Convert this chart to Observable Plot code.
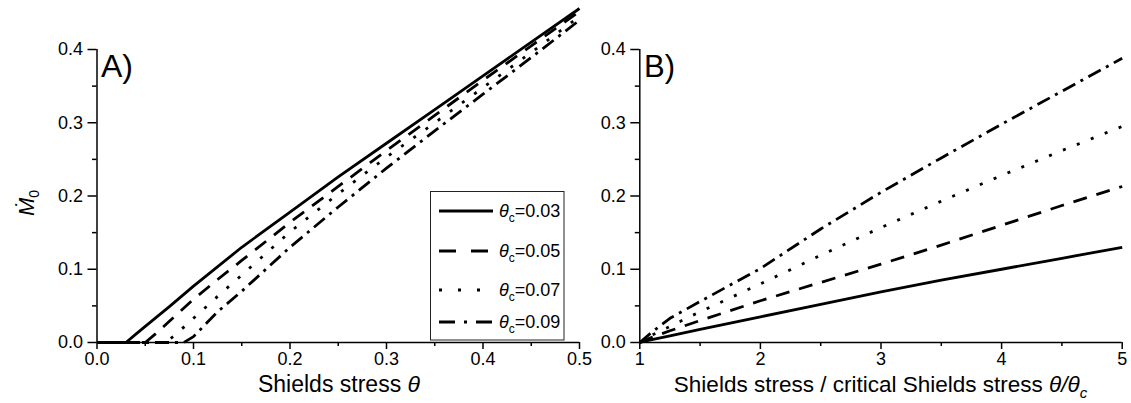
<!DOCTYPE html>
<html>
<head>
<meta charset="utf-8">
<script src="https://cdn.jsdelivr.net/npm/d3@7"></script>
<script src="https://cdn.jsdelivr.net/npm/@observablehq/plot@0.6"></script>
<style>
  body { margin: 0; background: #fff; }
  #chart { position: relative; width: 1131px; height: 403px; overflow: hidden;
           font-family: "Liberation Sans", Arial, sans-serif; }
  #chart svg { position: absolute; top: 0; overflow: visible; }
</style>
</head>
<body>
<div id="chart"></div>
<script>
// Critical Shields stress of each curve
const criticalShields = [0.03, 0.05, 0.07, 0.09];
const legendValues = ["0.03", "0.05", "0.07", "0.09"];

// Panel A: dimensionless rate against Shields stress
const shieldsA1 = [0, 0.03, 0.04, 0.05, 0.075, 0.1, 0.15, 0.2, 0.25, 0.3, 0.35, 0.4, 0.45, 0.5];
const rateA1    = [0, 0, 0.011, 0.022, 0.049, 0.077, 0.13, 0.178, 0.226, 0.272, 0.318, 0.364, 0.41, 0.456];
const shieldsA2 = [0, 0.05, 0.06, 0.075, 0.1, 0.125, 0.15, 0.2, 0.25, 0.3, 0.35, 0.4, 0.45, 0.5];
const rateA2    = [0, 0, 0.011, 0.029, 0.059, 0.086, 0.112, 0.164, 0.213, 0.262, 0.31, 0.358, 0.405, 0.452];
const shieldsA3 = [0, 0.07, 0.08, 0.1, 0.125, 0.15, 0.2, 0.25, 0.3, 0.35, 0.4, 0.45, 0.5];
const rateA3    = [0, 0, 0.009, 0.033, 0.063, 0.092, 0.151, 0.203, 0.253, 0.3, 0.348, 0.396, 0.445];
const shieldsA4 = [0, 0.09, 0.1, 0.125, 0.15, 0.2, 0.25, 0.3, 0.35, 0.4, 0.45, 0.5];
const rateA4    = [0, 0, 0.008, 0.042, 0.07, 0.13, 0.185, 0.238, 0.289, 0.339, 0.389, 0.44];

// Panel B: the same rate against the ratio theta / theta_c
const ratioB = [1, 1.1, 1.25, 1.5, 2, 2.5, 3, 3.5, 4, 4.5, 5];
const rateB1 = [0, 0.004, 0.009, 0.018, 0.035, 0.052, 0.069, 0.085, 0.100, 0.115, 0.130];
const rateB2 = [0, 0.007, 0.016, 0.030, 0.057, 0.082, 0.107, 0.133, 0.160, 0.187, 0.213];
const rateB3 = [0, 0.010, 0.022, 0.042, 0.080, 0.119, 0.157, 0.193, 0.228, 0.262, 0.295];
const rateB4 = [0, 0.014, 0.033, 0.056, 0.101, 0.155, 0.205, 0.252, 0.298, 0.343, 0.388];

// Axis ticks
const ticksAx = [0, 0.1, 0.2, 0.3, 0.4, 0.5];
const minorAx = [0.05, 0.15, 0.25, 0.35, 0.45];
const ticksBx = [1, 2, 3, 4, 5];
const minorBx = [1.5, 2.5, 3.5, 4.5];
const ticksY = [0, 0.1, 0.2, 0.3, 0.4];
const minorY = [0.05, 0.15, 0.25, 0.35];

// Line style of each curve (solid, dash, dot, dash-dot)
const dashes = [null, "14,10", "3,12", "14,6,3,6"];
const legendDashes = [null, "17,15", "3,16", "16,9,3,9"];
const LW = 2.8;
const FONT = '"Liberation Sans", Arial, sans-serif';

const seriesA = [[shieldsA1, rateA1], [shieldsA2, rateA2], [shieldsA3, rateA3], [shieldsA4, rateA4]]
  .map(([xs, ys]) => xs.map((x, j) => ({x, y: ys[j]})));
const seriesB = [rateB1, rateB2, rateB3, rateB4]
  .map(ys => ratioB.map((x, j) => ({x, y: ys[j]})));

function axes(xMajor, xMinor, xFmt) {
  return [
    Plot.ruleY([0], {stroke: "black", strokeWidth: 1.5}),
    Plot.axisX(xMajor, {tickSize: 7, tickPadding: 3, fontSize: 18, tickFormat: xFmt,
                        strokeWidth: 1.5, label: null}),
    Plot.axisX(xMinor, {tickSize: 4, tickFormat: null, text: null, strokeWidth: 1.5, label: null}),
    Plot.axisY(ticksY, {tickSize: 9, tickPadding: 5, fontSize: 18, tickFormat: d3.format(".1f"),
                        strokeWidth: 1.5, label: null}),
    Plot.axisY(minorY, {tickSize: 4.5, tickFormat: null, text: null, strokeWidth: 1.5, label: null})
  ];
}

function curves(series) {
  return series.map((data, i) => Plot.line(data, {
    x: "x", y: "y", stroke: "black", strokeWidth: LW,
    strokeDasharray: dashes[i] ?? undefined, strokeLinecap: "butt", strokeLinejoin: "round"
  }));
}

const H = 403, MT = 49, MB = 61;

// ---- Panel A ----
const plotA = Plot.plot({
  width: 590, height: H, marginLeft: 96.5, marginRight: 11, marginTop: MT, marginBottom: MB,
  x: {domain: [0, 0.5]},
  y: {domain: [0, 0.4]},
  style: {color: "black", fontFamily: FONT, background: "transparent", overflow: "visible"},
  marks: [
    ...axes(ticksAx, minorAx, d3.format(".1f")),
    Plot.ruleX([0], {y1: 0, y2: 0.4, stroke: "black", strokeWidth: 1.5}),
    ...curves(seriesA)
  ]
});
plotA.style.left = "0px";

// ---- Panel B ----
const plotB = Plot.plot({
  width: 541, height: H, marginLeft: 49.3, marginRight: 9.3, marginTop: MT, marginBottom: MB,
  x: {domain: [1, 5]},
  y: {domain: [0, 0.4]},
  style: {color: "black", fontFamily: FONT, background: "transparent", overflow: "visible"},
  marks: [
    ...axes(ticksBx, minorBx, d3.format("d")),
    Plot.ruleX([1], {y1: 0, y2: 0.4, stroke: "black", strokeWidth: 1.5}),
    ...curves(seriesB)
  ]
});
plotB.style.left = "590px";

const chart = document.getElementById("chart");
chart.append(plotA, plotB);

// ---- Annotations: panel letters, axis titles, legend ----
const sA = d3.select(plotA), sB = d3.select(plotB);

sA.append("text").attr("x", 101).attr("y", 77).attr("font-size", 32).attr("text-anchor", "start")
  .attr("font-family", FONT).attr("fill", "black").text("A)");
sB.append("text").attr("x", 54).attr("y", 77).attr("font-size", 31).attr("text-anchor", "start")
  .attr("font-family", FONT).attr("fill", "black").text("B)");

// x titles
const tA = sA.append("text").attr("x", 339).attr("y", 392).attr("text-anchor", "middle")
  .attr("font-size", 23).attr("font-family", FONT).attr("fill", "black");
tA.append("tspan").text("Shields stress ");
tA.append("tspan").attr("font-style", "italic").text("θ");

const tB = sB.append("text").attr("x", 290.5).attr("y", 392).attr("text-anchor", "middle")
  .attr("font-size", 22.5).attr("font-family", FONT).attr("fill", "black");
tB.append("tspan").text("Shields stress / critical Shields stress ");
tB.append("tspan").attr("font-style", "italic").text("θ/θ");
tB.append("tspan").attr("font-style", "italic").attr("font-size", 15).attr("dy", 6).text("c");

// y title
const yT = sA.append("text").attr("transform", "translate(34,203) rotate(-90)")
  .attr("text-anchor", "middle").attr("font-size", 22).attr("font-family", FONT).attr("fill", "black");
yT.append("tspan").attr("font-style", "italic").text("Ṁ");
yT.append("tspan").attr("font-size", 14).attr("dy", 5).text("0");

// legend
const lg = sA.append("g");
lg.append("rect").attr("x", 430.5).attr("y", 191.5).attr("width", 133.5).attr("height", 148.5)
  .attr("fill", "white").attr("stroke", "#222").attr("stroke-width", 1);
const rowsY = [211, 251, 290, 322];
legendValues.forEach((v, i) => {
  const y = rowsY[i];
  const ln = lg.append("line").attr("x1", 439).attr("x2", 493).attr("y1", y).attr("y2", y)
    .attr("stroke", "black").attr("stroke-width", LW);
  if (legendDashes[i]) ln.attr("stroke-dasharray", legendDashes[i]);
  const t = lg.append("text").attr("x", 499).attr("y", y + 6).attr("font-size", 18)
    .attr("text-anchor", "start").attr("font-family", FONT).attr("fill", "black");
  t.append("tspan").attr("font-style", "italic").text("θ");
  t.append("tspan").attr("font-size", 12).attr("dy", 5).text("c");
  t.append("tspan").attr("dy", -5).text("=" + v);
});
</script>
</body>
</html>
